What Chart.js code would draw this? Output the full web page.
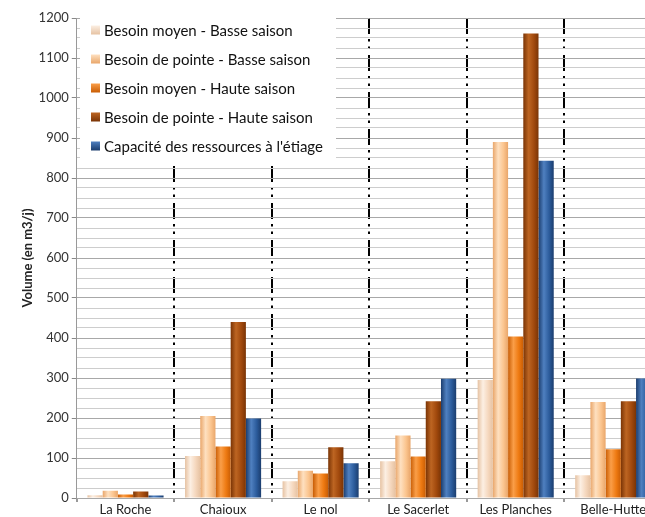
<!DOCTYPE html>
<html>
<head>
<meta charset="utf-8">
<script src="https://cdn.jsdelivr.net/npm/chart.js@4/dist/chart.umd.min.js"></script>
<style>
  html, body { margin: 0; padding: 0; background: #fff; overflow: hidden; }
  #wrap { width: 680px; height: 517px; }
</style>
</head>
<body>
<div id="wrap"><canvas id="outputChart" width="680" height="517"></canvas></div>
<script>
// catégories (sites)
const categories = ["La Roche", "Chaioux", "Le nol", "Le Sacerlet", "Les Planches", "Belle-Hutte"];

// séries en m3/j
const moyenBasse = [7, 105, 42, 92, 295, 57];
const pointeBasse = [18, 205, 68, 156, 890, 240];
const moyenHaute = [9, 129, 61, 104, 404, 122];
const pointeHaute = [16, 440, 127, 242, 1161, 242];
const capacite = [6, 199, 87, 298, 843, 299];

const seriesLabels = [
    "Besoin moyen - Basse saison",
    "Besoin de pointe - Basse saison",
    "Besoin moyen - Haute saison",
    "Besoin de pointe - Haute saison",
    "Capacité des ressources à l'étiage",
];

// teintes: [bord, centre clair, base]
const shades = [
    ["#e6c2a2", "#fcefe3", "#f5d7bd"],
    ["#e9a66a", "#fee0c0", "#fbc58f"],
    ["#c95d04", "#fa9e48", "#ee7a12"],
    ["#7a3405", "#bd6522", "#a1490d"],
    ["#1b3d6e", "#4f80c0", "#2c5c9c"],
];

// dégradé horizontal façon cylindre
const cylinderPlugin = {
    id: "cylinder",
    beforeDatasetsDraw(chart) {
        const ctx = chart.ctx;
        chart.data.datasets.forEach((ds, i) => {
            const meta = chart.getDatasetMeta(i);
            const s = shades[i];
            meta.data.forEach((el) => {
                const x0 = el.x - el.width / 2;
                const g = ctx.createLinearGradient(x0, 0, x0 + el.width, 0);
                g.addColorStop(0, s[0]);
                g.addColorStop(0.35, s[1]);
                g.addColorStop(0.7, s[2]);
                g.addColorStop(1, s[0]);
                el.options.backgroundColor = g;
            });
        });
    },
};

// légende dans la zone du graphique, fond blanc
const boxLegendPlugin = {
    id: "boxLegend",
    afterDraw(chart) {
        const ctx = chart.ctx;
        ctx.save();
        ctx.fillStyle = "#fff";
        ctx.fillRect(80, 14, 256, 148);
        ctx.font = "15px Lato";
        ctx.textBaseline = "middle";
        chart.data.datasets.forEach((ds, i) => {
            const y = 30 + i * 29;
            const s = shades[i];
            const g = ctx.createLinearGradient(0, y - 4.5, 0, y + 4.5);
            g.addColorStop(0, s[1]);
            g.addColorStop(1, s[0]);
            ctx.fillStyle = g;
            ctx.fillRect(91, y - 4.5, 9, 9);
            ctx.fillStyle = "#111";
            ctx.fillText(ds.label, 104, y + 1);
        });
        ctx.restore();
    },
};

const allSeries = [moyenBasse, pointeBasse, moyenHaute, pointeHaute, capacite];

const context = document.querySelector("#outputChart").getContext("2d");
const outputChart = new Chart(context, {
    type: "bar",
    data: {
        labels: categories,
        datasets: allSeries.map((values, i) => ({
            label: seriesLabels[i],
            data: values,
            backgroundColor: () => shades[i][2],
            barPercentage: 1,
            categoryPercentage: 0.78,
        })),
    },
    options: {
        responsive: false,
        animation: false,
        layout: { padding: { top: 18, left: 20, right: 18, bottom: 0 } },
        scales: {
            x: {
                grid: {
                    offset: true,
                    color: (c) => (c.index === 0 ? "rgba(0,0,0,0)" : "#000"),
                    lineWidth: 2,
                    tickColor: "#999",
                    tickLength: 4,
                    drawTicks: true,
                },
                border: { display: false, dash: [16, 5, 2.5, 5, 2.5, 6] },
                ticks: {
                    color: "#222",
                    font: { family: "Lato", size: 13, lineHeight: 1 },
                    padding: 1,
                },
            },
            y: {
                min: 0,
                max: 1200,
                ticks: {
                    stepSize: 25,
                    autoSkip: false,
                    color: "#333",
                    font: { family: "Lato", size: 13 },
                    padding: 3,
                    callback: (v) => (v % 100 === 0 ? v : ""),
                },
                grid: {
                    color: (c) => (c.tick && c.tick.value % 100 === 0 ? "#a8a8a8" : "#cdcdcd"),
                    tickColor: (c) => (c.tick && c.tick.value % 100 === 0 ? "#888" : "rgba(0,0,0,0)"),
                    tickLength: 5,
                },
                border: { display: true, color: "#999" },
                title: {
                    display: true,
                    text: "Volume (en m3/j)",
                    color: "#222",
                    font: { family: "Lato", size: 13, weight: "bold" },
                    padding: { top: 0, bottom: 0 },
                },
            },
        },
        plugins: {
            legend: { display: false },
            tooltip: { enabled: false },
        },
    },
    plugins: [cylinderPlugin, boxLegendPlugin],
});
</script>
</body>
</html>
